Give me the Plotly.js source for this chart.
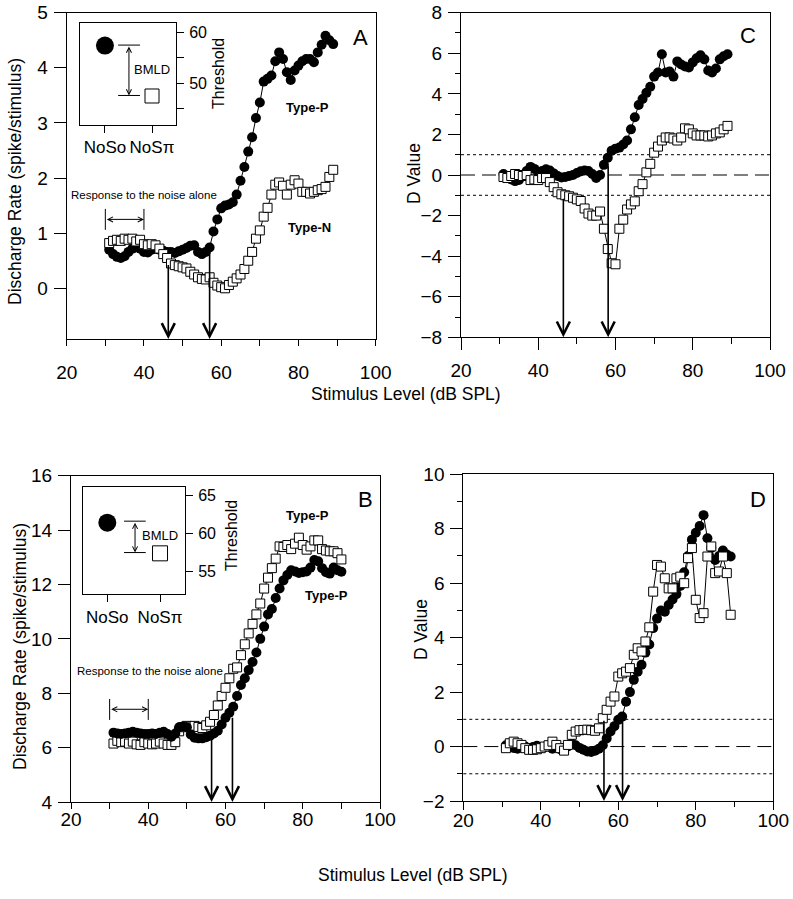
<!DOCTYPE html>
<html><head><meta charset="utf-8">
<script src="https://cdn.plot.ly/plotly-3.0.1.min.js"></script>
<style>html,body{margin:0;padding:0;background:#fff}#chart{width:793px;height:899px}</style>
</head><body><div id="chart"></div>
<script>
// Stimulus levels (dB SPL)
const levels = [31,32,33,34,35,36,37,38,39,40,41,42,43,44,45,46,47,48,49,50,51,52,53,54,55,56,57,58,59,60,61,62,63,64,65,66,67,68,69,70,71,72,73,74,75,76,77,78,79,80,81,82,83,84,85,86,87,88,89];
const levelsB = [31,32,33,34,35,36,37,38,39,40,41,42,43,44,45,46,47,48,49,50,51,52,53,54,55,56,57,58,59,60,61,62,63,64,65,66,67,68,69,70,71,72,73,74,75,76,77,78,79,80,81,82,83,84,85,86,87,88,89,90];

// Panel A: discharge rate
const rateA_NoSo = [0.70,0.62,0.57,0.55,0.58,0.66,0.72,0.75,0.72,0.66,
 0.65,0.70,0.72,0.70,0.68,0.66,0.66,0.64,0.67,0.70,
 0.73,0.77,0.78,0.66,0.62,0.66,0.74,1.03,1.25,1.45,
 1.50,1.52,1.56,1.70,1.95,2.20,2.48,2.74,3.09,3.37,
 3.75,3.80,3.86,4.12,4.28,4.16,3.92,3.78,3.95,4.04,
 4.12,4.16,4.16,4.10,4.28,4.42,4.58,4.50,4.43];
const rateA_NoSpi = [0.82,0.86,0.88,0.86,0.90,0.88,0.90,0.85,0.88,0.80,
 0.78,0.80,0.78,0.72,0.62,0.55,0.45,0.42,0.40,0.38,
 0.36,0.30,0.25,0.20,0.17,0.16,0.20,0.10,0.05,0.02,
 0.00,0.06,0.12,0.18,0.25,0.35,0.50,0.66,0.90,1.05,
 1.30,1.46,1.70,1.88,1.92,1.86,1.70,1.88,1.96,1.90,
 1.75,1.75,1.72,1.75,1.78,1.80,1.84,2.02,2.15];

// Panel C: D value
const dC_NoSo = [0.05,-0.10,-0.22,-0.30,-0.25,-0.05,0.20,0.40,0.30,0.15,
 0.20,0.28,0.22,0.08,-0.05,-0.12,-0.10,-0.05,0.00,0.10,
 0.18,0.22,0.20,0.05,-0.15,0.00,0.50,0.85,1.20,1.30,
 1.35,1.50,1.70,2.25,2.85,3.45,3.75,4.05,4.35,4.85,
 5.05,5.95,5.05,5.10,4.85,5.60,5.45,5.35,5.30,5.55,
 5.75,5.90,5.70,5.15,5.05,5.25,5.70,5.85,5.95];
const dC_NoSpi = [-0.10,-0.15,-0.05,0.05,0.00,-0.05,0.00,-0.25,-0.22,-0.25,
 -0.15,-0.15,-0.35,-0.60,-0.85,-0.95,-1.00,-1.05,-1.12,-1.20,
 -1.28,-1.65,-1.90,-2.00,-2.00,-1.80,-2.65,-3.65,-4.35,-4.40,
 -2.65,-2.20,-1.70,-1.45,-1.30,-0.80,-0.45,0.13,0.55,1.10,
 1.40,1.70,1.85,1.85,1.80,1.70,1.85,2.30,2.25,2.05,
 1.95,1.95,1.95,1.90,1.95,2.05,2.10,2.25,2.42];

// Panel B: discharge rate
const rateB_NoSo = [6.55,6.52,6.50,6.52,6.55,6.58,6.55,6.52,6.50,6.50,
 6.52,6.50,6.55,6.58,6.50,6.40,6.52,6.75,6.78,6.75,
 6.48,6.36,6.34,6.34,6.38,6.44,6.52,6.62,6.85,7.10,
 7.28,7.50,7.90,8.30,8.55,8.85,9.15,9.50,10.00,10.45,
 10.90,11.10,11.50,11.85,12.15,12.35,12.52,12.48,12.42,12.45,
 12.48,12.62,12.90,12.85,12.60,12.45,12.40,12.62,12.52,12.47];
const rateB_NoSpi = [6.15,6.25,6.20,6.22,6.15,6.22,6.12,6.10,6.20,6.15,
 6.12,6.15,6.22,6.15,6.10,6.10,6.20,6.60,6.75,6.80,
 6.78,6.80,6.76,6.72,6.82,6.95,7.20,7.55,7.90,8.20,
 8.55,8.90,8.95,9.40,9.80,10.20,10.55,10.90,11.30,11.85,
 12.25,12.60,12.95,13.40,13.38,13.45,13.30,13.50,13.72,13.45,
 13.28,13.40,13.62,13.62,13.30,13.25,13.22,13.22,13.15,12.92];

// Panel D: D value
const dD_NoSo = [0.05,0.00,-0.05,-0.08,-0.03,0.00,-0.05,-0.02,0.03,-0.05,
 -0.02,0.00,-0.08,-0.05,-0.10,-0.05,0.00,0.10,0.05,-0.05,
 -0.12,-0.18,-0.20,-0.15,-0.08,0.05,0.30,0.55,0.75,0.98,
 1.10,1.65,2.00,2.45,2.75,3.00,3.45,3.75,4.35,4.70,
 5.00,4.95,5.20,5.40,5.60,5.90,6.40,7.00,7.60,7.85,
 8.10,8.50,7.65,7.30,6.85,7.00,7.20,7.05,6.98];
const dD_NoSpi = [-0.06,0.12,0.18,0.12,0.06,-0.06,-0.12,-0.12,-0.10,-0.06,
 0.00,0.05,0.18,0.06,-0.06,-0.15,0.06,0.43,0.55,0.60,
 0.61,0.62,0.60,0.58,0.67,1.04,1.35,1.65,1.84,2.57,
 2.69,2.75,2.88,3.37,3.61,3.49,3.86,4.38,5.69,6.67,
 6.61,6.18,5.81,5.81,6.18,6.24,6.00,6.92,7.29,5.39,
 4.72,4.90,6.98,7.35,6.37,6.43,6.98,6.37,4.84];

// Insets: thresholds
const insetCats = [0, 1];
const insetLabels = ['NoSo', 'NoS\u03c0'];
const thrA = [57.4, 47.5];
const thrB = [61.4, 57.4];

// Reference levels and arrows
const ticksX = [20, 40, 60, 80, 100];
const arrowsA = [46.3, 57.0], arrowsA_top = [0.45, 0.80];
const arrowsC = [46.5, 58.1], arrowsC_top = [-1.1, 0.5];
const arrowsB = [56.4, 61.8], arrowsB_top = [6.65, 7.15];
const arrowsD = [56.3, 61.1], arrowsD_top = [1.0, 1.2];
const noiseRange = [30, 40];

const W = 793, H = 899;
const FONT = 'Arial, "Liberation Sans", sans-serif';
const dx = (a, b) => [a / W, b / W];
const dy = (top, bottom) => [1 - bottom / H, 1 - top / H];
const px = v => v / W, py = v => 1 - v / H;

function xAxis(domain, anchor, majLen, minLen, standoff) {
  return {domain, anchor, range: [20, 100], tickmode: 'array', tickvals: ticksX,
    ticks: 'outside', ticklen: majLen, tickwidth: 1, tickcolor: '#000',
    minor: {tick0: 0, dtick: 10, ticks: 'outside', ticklen: minLen, tickwidth: 1, tickcolor: '#000', showgrid: false},
    showline: true, linecolor: '#000', linewidth: 1, mirror: true, showgrid: false, zeroline: false,
    tickfont: {family: FONT, size: 19, color: '#000'}, ticklabelstandoff: standoff, fixedrange: true};
}
function yAxis(domain, anchor, range, dtick, majLen, minDtick, minLen) {
  const a = {domain, anchor, range, tick0: 0, dtick, ticks: 'outside', ticklen: majLen, tickwidth: 1, tickcolor: '#000',
    showline: true, linecolor: '#000', linewidth: 1, mirror: true, showgrid: false, zeroline: false,
    tickfont: {family: FONT, size: 19, color: '#000'}, ticklabelstandoff: 2, fixedrange: true};
  if (minDtick) a.minor = {tick0: 0, dtick: minDtick, ticks: 'outside', ticklen: minLen, tickwidth: 1, tickcolor: '#000', showgrid: false};
  return a;
}
function insetX(domain, anchor, range) {
  return {domain, anchor, range, tickmode: 'array', tickvals: insetCats, ticktext: insetLabels,
    ticks: 'outside', ticklen: 7, tickwidth: 1, tickcolor: '#000', showline: true, linecolor: '#000', mirror: true,
    showgrid: false, zeroline: false, tickfont: {family: FONT, size: 17, color: '#000'}, ticklabelstandoff: 0, fixedrange: true};
}
function insetY(domain, anchor, range, vals, text) {
  return {domain, anchor, range, side: 'right', tickmode: 'array', tickvals: vals, ticktext: text,
    ticks: 'outside', ticklen: 7, tickwidth: 1, tickcolor: '#000', showline: true, linecolor: '#000', mirror: true,
    showgrid: false, zeroline: false, tickfont: {family: FONT, size: 16, color: '#000'}, ticklabelstandoff: 2, fixedrange: true};
}

const circ = (x, y, xa, ya) => ({x, y, xaxis: xa, yaxis: ya, type: 'scatter', mode: 'lines+markers',
  line: {color: '#000', width: 1}, marker: {symbol: 'circle', size: 10, color: '#000'}, hoverinfo: 'skip'});
const sq = (x, y, xa, ya) => ({x, y, xaxis: xa, yaxis: ya, type: 'scatter', mode: 'lines+markers',
  line: {color: '#000', width: 1}, marker: {symbol: 'square', size: 9, color: '#fff', line: {color: '#000', width: 1}}, hoverinfo: 'skip'});

const data = [
  circ(levels, rateA_NoSo, 'x', 'y'), sq(levels, rateA_NoSpi, 'x', 'y'),
  circ(levels, dC_NoSo, 'x2', 'y2'), sq(levels, dC_NoSpi, 'x2', 'y2'),
  sq(levelsB, rateB_NoSpi, 'x3', 'y3'), circ(levelsB, rateB_NoSo, 'x3', 'y3'),
  circ(levels, dD_NoSo, 'x4', 'y4'), sq(levels, dD_NoSpi, 'x4', 'y4'),
  {x: [insetCats[0]], y: [thrA[0]], xaxis: 'x5', yaxis: 'y5', type: 'scatter', mode: 'markers', marker: {symbol: 'circle', size: 18, color: '#000'}, hoverinfo: 'skip'},
  {x: [insetCats[1]], y: [thrA[1]], xaxis: 'x5', yaxis: 'y5', type: 'scatter', mode: 'markers', marker: {symbol: 'square', size: 14, color: '#fff', line: {color: '#000', width: 1}}, hoverinfo: 'skip'},
  {x: [insetCats[0]], y: [thrB[0]], xaxis: 'x6', yaxis: 'y6', type: 'scatter', mode: 'markers', marker: {symbol: 'circle', size: 18, color: '#000'}, hoverinfo: 'skip'},
  {x: [insetCats[1]], y: [thrB[1]], xaxis: 'x6', yaxis: 'y6', type: 'scatter', mode: 'markers', marker: {symbol: 'square', size: 15, color: '#fff', line: {color: '#000', width: 1}}, hoverinfo: 'skip'}
];

const shapes = [];
const annotations = [];
function refLines(xr, yr) {
  shapes.push({type: 'line', xref: xr + ' domain', yref: yr, x0: 0, x1: 1, y0: 0, y1: 0, line: {color: '#000', width: 1, dash: '14px,7px'}, layer: 'below'});
  shapes.push({type: 'line', xref: xr + ' domain', yref: yr, x0: 0, x1: 1, y0: 1, y1: 1, line: {color: '#000', width: 1, dash: 'dot'}, layer: 'below'});
  shapes.push({type: 'line', xref: xr + ' domain', yref: yr, x0: 0, x1: 1, y0: -1, y1: -1, line: {color: '#000', width: 1, dash: 'dot'}, layer: 'below'});
}
refLines('x2', 'y2');
refLines('x4', 'y4');

function downArrows(xr, yr, xs, tops, bottom) {
  xs.forEach((xv, i) => annotations.push({xref: xr, yref: yr, axref: xr, ayref: yr, x: xv, y: bottom, ax: xv, ay: tops[i],
    text: '', showarrow: true, arrowhead: 5, arrowsize: 1.6, arrowwidth: 1.6, arrowcolor: '#000'}));
}
downArrows('x', 'y', arrowsA, arrowsA_top, -0.92);
downArrows('x2', 'y2', arrowsC, arrowsC_top, -8);
downArrows('x3', 'y3', arrowsB, arrowsB_top, 4);
downArrows('x4', 'y4', arrowsD, arrowsD_top, -2);

function noiseArrow(xr, yr, yv, y0, y1) {
  annotations.push({xref: xr, yref: yr, axref: xr, ayref: yr, x: noiseRange[1], y: yv, ax: noiseRange[0], ay: yv,
    text: '', showarrow: true, arrowside: 'end+start', arrowhead: 5, startarrowhead: 5, arrowsize: 1, startarrowsize: 1, arrowwidth: 1, arrowcolor: '#000'});
  noiseRange.forEach(xv => shapes.push({type: 'line', xref: xr, yref: yr, x0: xv, x1: xv, y0, y1, line: {color: '#000', width: 1}}));
}
noiseArrow('x', 'y', 1.25, 1.06, 1.44);
noiseArrow('x3', 'y3', 7.41, 7.02, 7.79);

function bmld(xr, yr, yTop, yBot, xl, xr2, xm) {
  shapes.push({type: 'line', xref: xr, yref: yr, x0: xl, x1: xr2, y0: yTop, y1: yTop, line: {color: '#000', width: 1}});
  shapes.push({type: 'line', xref: xr, yref: yr, x0: xl, x1: xr2, y0: yBot, y1: yBot, line: {color: '#000', width: 1}});
  annotations.push({xref: xr, yref: yr, axref: xr, ayref: yr, x: xm, y: yBot, ax: xm, ay: yTop, text: '', showarrow: true,
    arrowside: 'end+start', arrowhead: 5, startarrowhead: 5, arrowsize: 1, startarrowsize: 1, arrowwidth: 1, arrowcolor: '#000'});
}
bmld('x5', 'y5', 57.5, 47.6, 0.28, 0.745, 0.51);
bmld('x6', 'y6', 61.6, 57.5, 0.317, 0.729, 0.526);

function txt(t, x, y, size, opts) {
  annotations.push(Object.assign({xref: 'paper', yref: 'paper', x: px(x), y: py(y), text: t, showarrow: false,
    xanchor: 'center', yanchor: 'middle', font: {family: FONT, size, color: '#000'}}, opts || {}));
}
txt('A', 360, 37, 22); txt('C', 748, 36, 22); txt('B', 365, 500, 22); txt('D', 758, 500, 22);
txt('<b>Type-P</b>', 307, 108, 13); txt('<b>Type-N</b>', 309, 227, 13);
txt('<b>Type-P</b>', 307, 515, 13); txt('<b>Type-P</b>', 326, 595, 13);
txt('Response to the noise alone', 144, 195, 11.5);
txt('Response to the noise alone', 150, 671, 11.5);
txt('Threshold', 218, 73, 16, {textangle: -90});
txt('Threshold', 231, 536, 16, {textangle: -90});
txt('BMLD', 152, 70, 13); txt('BMLD', 160, 535, 13);
txt('Discharge Rate (spike/stimulus)', 15, 182, 17.5, {textangle: -90});
txt('Discharge Rate (spike/stimulus)', 20, 647, 17.5, {textangle: -90});
txt('D Value', 414, 173, 17.5, {textangle: -90});
txt('D Value', 421, 630, 17.5, {textangle: -90});
txt('Stimulus Level (dB SPL)', 406, 394, 17.5);
txt('Stimulus Level (dB SPL)', 413, 875, 17.5);

const layout = {
  width: W, height: H, margin: {l: 0, r: 0, t: 0, b: 0}, showlegend: false,
  paper_bgcolor: '#fff', plot_bgcolor: '#fff', font: {family: FONT, color: '#000'},
  xaxis: xAxis(dx(66.7, 375.7), 'y', 6, 6, 10),
  yaxis: yAxis(dy(12.7, 339), 'x', [-0.92, 5], 1, 12),
  xaxis2: xAxis(dx(461, 770), 'y2', 12, 6, 4),
  yaxis2: yAxis(dy(12.7, 337.3), 'x2', [-8, 8], 2, 12, 1, 5),
  xaxis3: xAxis(dx(71, 380), 'y3', 6, 6, -6),
  yaxis3: yAxis(dy(475.7, 802), 'x3', [4, 16], 2, 12),
  xaxis4: xAxis(dx(463.3, 773.3), 'y4', 8, 5, -6),
  yaxis4: yAxis(dy(474.3, 801), 'x4', [-2, 10], 2, 12, 1, 5),
  xaxis5: insetX(dx(80, 176), 'y5', [-0.53, 1.51]),
  yaxis5: insetY(dy(22.7, 125), 'x5', [41.8, 61.9], [45, 50, 55, 60], ['', '50', '', '60']),
  xaxis6: insetX(dx(82.7, 185), 'y6', [-0.467, 1.474]),
  yaxis6: insetY(dy(486.7, 594.3), 'x6', [52.05, 66.1], [55, 60, 65], ['55', '60', '65']),
  shapes, annotations
};

Plotly.newPlot('chart', data, layout, {staticPlot: true, displayModeBar: false});
</script></body></html>
